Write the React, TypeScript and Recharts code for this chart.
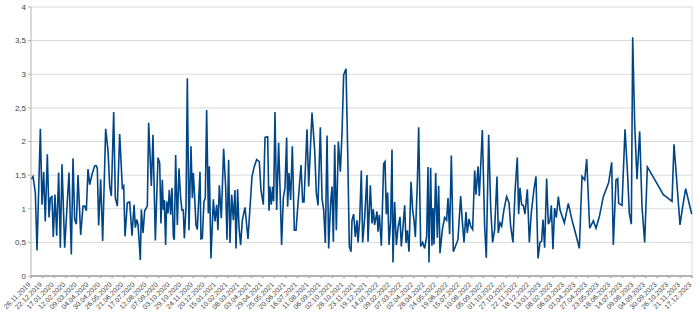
import { LineChart, Line, XAxis, YAxis, CartesianGrid, ReferenceLine } from "recharts";

// days since 26.11.2019
const days = [
  0, 4.5, 9.7, 13.5, 21, 24.7, 28.4, 32, 36.6, 40.4, 43.4, 47, 50, 53.8, 57.6, 62, 65.8, 69.5, 75.5, 85.2,
  90.4, 94.2, 97.9, 101.7, 105.4, 111.4, 116.6, 120.3, 124.1, 127.8, 131.6, 136.8, 142.8, 146.5, 148.7, 151.7, 156.2, 160.7, 167.4, 172.7,
  176.4, 180.1, 185.4, 189.1, 193.6, 198.8, 204.8, 207.8, 210.8, 216, 221.2, 226.5, 231, 234, 237, 239.9, 245.1, 247.4, 251.1, 254.9,
  260.8, 263.8, 269.8, 273.5, 278.8, 284.7, 288.5,
  291.4, 294.4, 296.7, 298.9, 301.9, 304.1, 307.1, 310.1, 313.1, 316.1, 319.1, 321.3, 324.3, 328.1, 331.8, 335.5, 338.5, 341.5, 343.8, 347.5,
  350.5, 354.2, 358.7, 361.7, 363.9, 366.9, 369.9, 372.9, 378.9, 381.1, 384.1, 387.8, 390.8, 393.8, 397.6, 399.8, 403.5, 408.8, 412.5, 416.2,
  419.2, 422.2, 426.7, 431.9, 436.4, 439.4, 443.1, 446.1, 449.9, 453.6, 457.3, 459.6, 463.3, 466.3, 470, 473.8, 479.8, 486.5, 495.5, 500.7,
  505.9, 511.9, 515.6, 520.9, 524.6, 530.6, 533.6, 535.8, 538.8, 541.8, 544, 547, 550.8, 555.2, 558.2, 561.9, 565.7, 569.4, 573.2, 575.4,
  578.4, 582.1, 585.9, 590.4,
  594.2, 598.7, 605.4, 609.1, 612.1, 618.8, 622.6, 630, 636, 639.8, 643.5, 648.7, 652.5, 656.2, 659.9, 663.7, 667.4, 671.9, 674.9, 677.9,
  680.9, 684.6, 689.1, 693.6, 697.3, 701, 706.3, 710, 713.7, 717.5, 719.7, 723.4, 727.2, 730.9, 733.2, 736.9, 740.6, 743.6, 748.1, 753.3,
  755.6, 760.8, 764.6, 767.5, 770.5, 775.8, 778, 781, 785.5, 790.7, 793.7, 796.7, 799.7, 802.7, 806.4, 809.4, 811.6, 815.4, 819.1, 822.8,
  827.3, 830.3, 834.1, 837.8, 840.8, 843.8, 847.5, 852, 855.7, 858.7, 861.7, 866.2, 869.2, 873.7, 878.1, 882.6, 886.4,
  887.1, 890.1, 892.3, 896, 899, 901.3, 903.5, 907.3, 911, 914, 917, 922.2, 927.4, 931.9, 934.9, 938.6, 942.4, 946.9, 952.1, 957.3,
  963.3, 967, 970.8, 975.3, 978.2, 982, 985.7, 990.2, 994.7, 997.7, 1002.2, 1005.2, 1011.9, 1017.1, 1020.8, 1026.1, 1030.7, 1035, 1039.5, 1044.8,
  1047.7, 1051.5, 1055.2, 1060.5, 1066.4, 1071.7, 1075.4, 1080.6, 1085.1, 1090.3, 1093.3, 1096.3, 1100.1, 1103.8, 1107.5, 1112.8, 1117.3, 1121.7, 1127.7, 1132.2,
  1136.7, 1141.2, 1144.9, 1147.9, 1151.6, 1156.1, 1159.9, 1163.6, 1166.6, 1170.3, 1174, 1177.8, 1182.3,
  1186.1, 1195.8, 1204.7, 1213, 1221.9, 1229.4, 1235.4, 1241.4, 1245.9, 1252.6, 1260.8, 1266.8, 1274.2, 1283.2, 1295.2, 1301.9, 1305.6, 1311.6, 1315.4, 1317.6,
  1325.1, 1331.8, 1337.8, 1341.5, 1346, 1349, 1353.5, 1358.7, 1364.7, 1369.9, 1375.9, 1381.9, 1390.1, 1401.3, 1417.7, 1427.4, 1437.2, 1441.6, 1447.6, 1455.1,
  1461.1, 1467.8, 1473.8, 1481.3,
];

const values = [
  1.44, 1.48, 1.24, 0.38, 2.19, 1.06, 1.55, 0.81, 1.81, 0.87, 1.16, 1.18, 0.58, 1.21, 0.6, 1.54, 0.42, 1.66, 0.42, 1.54,
  0.32, 1.75, 0.84, 0.77, 1.5, 0.61, 1.04, 1.04, 0.97, 1.59, 1.36, 1.51, 1.64, 1.64, 1.6, 0.75, 1.44, 0.52, 2.19, 1.86,
  1.34, 1.19, 2.44, 1.16, 1.04, 2.11, 1.31, 1.34, 0.59, 1.09, 1.1, 0.6, 1.06, 0.72, 0.84, 0.77, 0.24, 0.99, 0.64, 0.97,
  1.04, 2.28, 1.34, 2.1, 0.53, 1.76, 1.68,
  0.78, 1.43, 0.98, 1.13, 0.46, 1.11, 0.93, 1.28, 0.91, 1.31, 0.59, 0.54, 1.8, 0.76, 1.6, 1.16, 0.98, 0.98, 0.56, 1.01,
  2.94, 0.68, 1.93, 1.16, 1.53, 1.18, 0.76, 0.69, 1.55, 0.55, 0.56, 1.11, 1.16, 2.47, 0.93, 1.63, 0.26, 1.14, 0.81, 1.06,
  0.68, 1.35, 0.86, 1.89, 1.33, 0.54, 1.73, 0.49, 1.21, 0.83, 1.28, 0.41, 1.29, 0.73, 0.46, 0.83, 1.02, 0.55, 1.48, 1.63,
  1.73, 1.7, 1.28, 1.06, 2.06, 2.07, 0.97, 1.33, 1.06, 1.33, 1.11, 2.44, 0.98, 1.98, 1.33, 0.46, 1.16, 1.31, 2.06, 1.03,
  1.53, 1.13, 1.93, 0.68,
  0.68, 1.08, 1.65, 1.1, 1.1, 2.18, 1.33, 2.43, 1.87, 1.23, 1.05, 2.21, 1.15, 0.98, 0.49, 2.09, 0.41, 1.1, 1.33, 0.51,
  1.95, 0.68, 2.0, 1.55, 2.12, 2.99, 3.08, 1.87, 0.44, 0.36, 0.83, 0.92, 0.58, 0.83, 0.5, 0.83, 1.57, 0.5, 0.86, 1.5,
  0.51, 1.35, 0.78, 0.99, 0.76, 0.96, 0.66, 0.91, 0.45, 1.67, 1.7, 0.92, 1.24, 0.46, 0.83, 1.88, 0.2, 1.1, 0.46, 0.71,
  0.88, 0.44, 0.74, 1.05, 0.49, 0.68, 0.36, 1.4, 0.98, 0.83, 0.58, 1.38, 2.21, 0.44, 0.5, 0.41, 0.56,
  0.59, 1.62, 0.2, 1.61, 0.45, 1.01, 0.47, 1.53, 0.57, 1.34, 0.34, 0.69, 0.87, 0.83, 1.16, 0.62, 1.79, 0.36, 0.45, 0.54,
  1.19, 0.82, 0.5, 0.95, 0.64, 0.85, 0.74, 0.69, 1.57, 1.21, 1.63, 1.19, 2.17, 0.74, 0.27, 2.1, 1.01, 0.5, 0.69, 1.48,
  0.64, 0.79, 0.74, 0.99, 1.18, 1.09, 0.74, 0.5, 1.24, 1.76, 0.92, 1.31, 1.06, 1.05, 0.92, 1.29, 0.5, 0.94, 1.29, 1.48,
  0.26, 0.5, 0.52, 0.84, 0.42, 1.45, 0.77, 0.82, 1.05, 0.4, 1.01, 0.87, 1.18,
  0.98, 0.79, 1.08, 0.83, 0.61, 0.41, 1.48, 1.43, 1.74, 0.71, 0.82, 0.71, 0.88, 1.18, 1.39, 1.69, 0.46, 1.43, 1.45, 1.08,
  1.05, 2.18, 1.48, 0.93, 0.77, 3.55, 2.25, 1.44, 2.15, 1.03, 0.5, 1.62, 1.53, 1.4, 1.21, 1.16, 1.11, 1.96, 1.43, 0.76,
  1.03, 1.3, 1.13, 0.92,
];

const tickLabels = [
  "26.11.2019", "22.12.2019", "17.01.2020", "12.02.2020", "09.03.2020", "04.04.2020", "30.04.2020", "26.05.2020",
  "21.06.2020", "17.07.2020", "12.08.2020", "07.09.2020", "03.10.2020", "29.10.2020", "24.11.2020", "20.12.2020",
  "15.01.2021", "10.02.2021", "08.03.2021", "03.04.2021", "29.04.2021", "25.05.2021", "20.06.2021", "16.07.2021",
  "11.08.2021", "06.09.2021", "02.10.2021", "28.10.2021", "23.11.2021", "19.12.2021", "14.01.2022", "09.02.2022",
  "07.03.2022", "02.04.2022", "28.04.2022", "24.05.2022", "19.06.2022", "15.07.2022", "10.08.2022", "05.09.2022",
  "01.10.2022", "27.10.2022", "22.11.2022", "18.12.2022", "13.01.2023", "08.02.2023", "06.03.2023", "01.04.2023",
  "27.04.2023", "23.05.2023", "18.06.2023", "14.07.2023", "09.08.2023", "04.09.2023", "30.09.2023", "26.10.2023",
  "21.11.2023", "17.12.2023",
];

const yTicks = [0, 0.5, 1, 1.5, 2, 2.5, 3, 3.5, 4];

const data = days.map((d, i) => ({ day: d, value: values[i] }));
const tickDays = tickLabels.map((_, i) => i * 26);

const DateTick = ({ x, y, payload }: any) => {
  const idx = tickDays.indexOf(payload.value);
  return (
    <text
      x={x}
      y={y + 5}
      transform={`rotate(-45, ${x}, ${y + 5})`}
      textAnchor="end"
      fontSize={7}
      fill="#444"
    >
      {tickLabels[idx]}
    </text>
  );
};

export default function App() {
  return (
    <div style={{ position: "absolute", left: 0, top: 0, fontFamily: "'Liberation Sans', Arial, sans-serif" }}>
      <LineChart width={700} height={315} data={data} margin={{ top: 7, right: 8, left: 0, bottom: 0 }}>
        <CartesianGrid vertical={false} stroke="#d9d9d9" />
        <XAxis
          dataKey="day"
          type="number"
          domain={[0, 1482]}
          ticks={tickDays}
          interval={0}
          tick={<DateTick />}
          height={39}
          stroke="#b3b3b3"
          strokeWidth={2}
          tickSize={2}
        />
        <YAxis
          domain={[0, 4]}
          ticks={yTicks}
          width={31}
          tickSize={3}
          stroke="#b3b3b3"
          tick={{ fontSize: 8, fill: "#444" }}
          tickFormatter={(v: number) => String(v).replace(".", ",")}
        />
        <ReferenceLine x={1482} stroke="#d9d9d9" />
        <Line
          type="linear"
          dataKey="value"
          stroke="#004586"
          strokeWidth={1.6}
          dot={false}
          isAnimationActive={false}
        />
      </LineChart>
    </div>
  );
}
